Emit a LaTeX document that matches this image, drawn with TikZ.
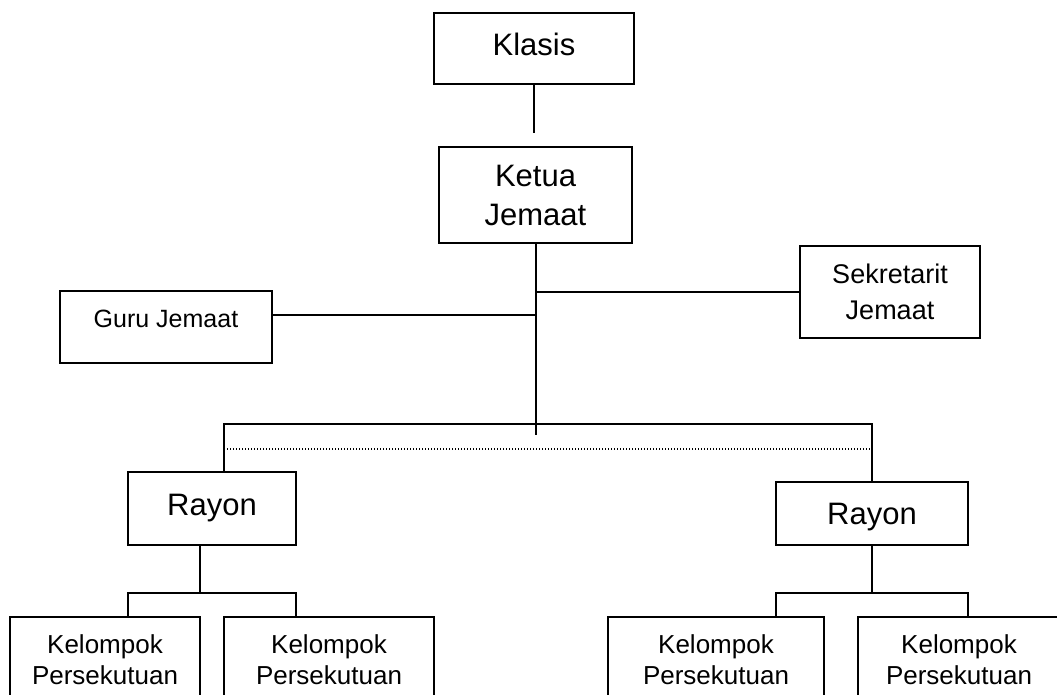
\documentclass[tikz,border=0pt]{standalone}
\usepackage{fontspec}
\setmainfont{Liberation Sans}
\begin{document}
\begin{tikzpicture}[x=1pt,y=-1pt,
  box/.style={draw, line width=1.3pt, inner sep=0pt, align=center, anchor=center},
  big/.style={font=\fontsize{31}{39}\selectfont},
  mid/.style={font=\fontsize{27}{36}\selectfont},
  small/.style={font=\fontsize{26}{31}\selectfont},
  conn/.style={line width=1.3pt},
  dots/.style={line width=1.2pt, dash pattern=on 1.2pt off 1.8pt}]
\useasboundingbox (0,0) rectangle (1057,695);
\clip (0,0) rectangle (1057,695);
% boxes
\node[box,big,minimum width=200pt,minimum height=71pt,text height=22pt,text depth=7pt] (klasis) at (534,48.5) {Klasis};
\node[box,big,minimum width=193pt,minimum height=96pt] (ketua) at (535.5,195) {Ketua\\Jemaat};
\node[box,mid,minimum width=180pt,minimum height=92pt] (sek) at (890,292) {Sekretarit\\Jemaat};
\node[box,font=\fontsize{25}{30}\selectfont,minimum width=212pt,minimum height=72pt,text height=18pt,text depth=18pt] (guru) at (166,327) {Guru Jemaat};
\node[box,big,minimum width=168pt,minimum height=73pt] (rayonL) at (212,508.5) {Rayon};
\node[box,big,minimum width=192pt,minimum height=63pt,text height=22pt,text depth=0pt] (rayonR) at (872,513.5) {Rayon};
\node[box,small,minimum width=190pt,minimum height=86pt] (k1) at (105,660) {Kelompok\\Persekutuan};
\node[box,small,minimum width=210pt,minimum height=86pt] (k2) at (329,660) {Kelompok\\Persekutuan};
\node[box,small,minimum width=216pt,minimum height=86pt] (k3) at (716,660) {Kelompok\\Persekutuan};
\node[box,small,minimum width=202pt,minimum height=86pt] (k4) at (959,660) {Kelompok\\Persekutuan};
% coordinates
\coordinate (kend) at (534,133);
\coordinate (vend) at (536,435);
\coordinate (hl) at (224,424);
\coordinate (hr) at (872,424);
\coordinate (dl) at (224,449);
\coordinate (dr) at (870,449);
\coordinate (lv) at (200,593);
\coordinate (rv) at (872,593);
% connectors
\draw[conn] (klasis.south -| kend) -- (kend);
\draw[conn] (ketua.south -| vend) -- (vend);
\draw[conn] (536,292) -- (sek.west |- 536,292);
\draw[conn] (guru.east |- 0,315) -- (536,315);
\draw[conn] (hl |- rayonL.north) -- (hl) -- (hr) -- (hr |- rayonR.north);
\draw[dots] (dl) -- (dr);
\draw[conn] (rayonL.south -| lv) -- (lv);
\draw[conn] (128,617) -- (128,593) -- (296,593) -- (296,617);
\draw[conn] (rayonR.south) -- (rv);
\draw[conn] (776,617) -- (776,593) -- (968,593) -- (968,617);
\end{tikzpicture}
\end{document}
